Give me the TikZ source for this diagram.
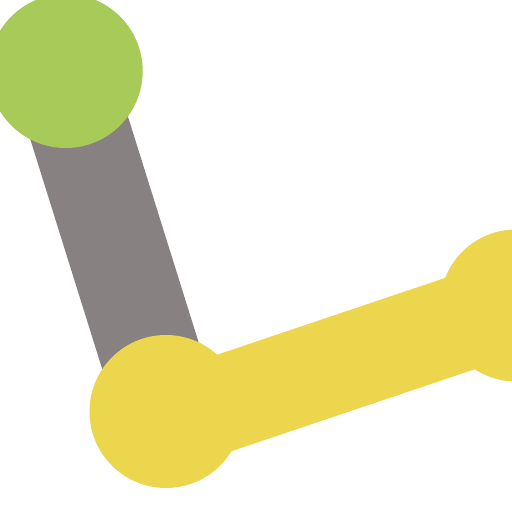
\documentclass[tikz,border=0pt]{standalone}
\definecolor{cgreen}{RGB}{168,202,88}
\definecolor{cgray}{RGB}{135,130,129}
\definecolor{cyellow}{RGB}{236,214,78}
\tikzset{
  dot/.style={circle, inner sep=0pt, minimum size=#1, draw=none},
  bar/.style={line width=#1, line cap=butt}
}
\begin{document}
\begin{tikzpicture}[x=1pt,y=1pt]
\useasboundingbox (0,0) rectangle (512,512);
\clip (0,0) rectangle (512,512);
\coordinate (g1) at (61.3,441);
\coordinate (g2) at (167.9,100.5);
\coordinate (y1) at (166,89.4);
\coordinate (y2) at (516,207.3);
\draw[cgray, bar=100pt] (g1) -- (g2);
\node[dot=154pt, fill=cgreen] (green) at (65.7,441) {};
\node[dot=153pt, fill=cyellow] (yleft) at (166,100.5) {};
\draw[cyellow, bar=96pt] (y1) -- (y2);
\node[dot=152pt, fill=cyellow] (yright) at (516,206.5) {};
\end{tikzpicture}
\end{document}
